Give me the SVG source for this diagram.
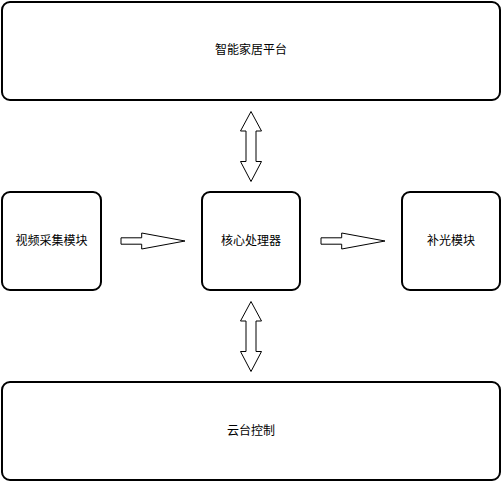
<svg xmlns="http://www.w3.org/2000/svg" width="502" height="482" viewBox="0 0 502 482">
<style>
.box{fill:#fff;stroke:#000;stroke-width:2}
.lbl{font-family:"Liberation Sans","Noto Sans CJK SC",sans-serif;font-size:12px;fill:#000;text-anchor:middle;dominant-baseline:central}
.arr{fill:#fff;stroke:#000;stroke-width:1;stroke-linejoin:miter}
</style>
<rect width="502" height="482" fill="#fff"/>
<g id="connectors">
<polygon class="arr" points="121,237.8 141.7,237.8 141.7,233 185,241 141.7,249 141.7,244.2 121,244.2"/>
<polygon class="arr" points="321,237.8 341.7,237.8 341.7,233 385,241 341.7,249 341.7,244.2 321,244.2"/>
<polygon class="arr" points="251,111.5 261.5,131 256,131 256,161.5 261.5,161.5 251,181.5 240.5,161.5 246,161.5 246,131 240.5,131"/>
<polygon class="arr" points="251,301.5 261.5,321 256,321 256,351.5 261.5,351.5 251,371.5 240.5,351.5 246,351.5 246,321 240.5,321"/>
</g>
<g id="platform">
<rect class="box" x="2" y="2" width="498" height="98" rx="8"/>
<text class="lbl" x="251" y="50">智能家居平台</text>
</g>
<g id="video">
<rect class="box" x="2" y="192" width="99" height="98" rx="8"/>
<text class="lbl" x="51.5" y="241">视频采集模块</text>
</g>
<g id="cpu">
<rect class="box" x="202" y="192" width="98" height="98" rx="8"/>
<text class="lbl" x="251" y="241">核心处理器</text>
</g>
<g id="light">
<rect class="box" x="402" y="192" width="98" height="98" rx="8"/>
<text class="lbl" x="451" y="241">补光模块</text>
</g>
<g id="gimbal">
<rect class="box" x="2" y="382" width="498" height="98" rx="8"/>
<text class="lbl" x="251" y="431">云台控制</text>
</g>
</svg>
